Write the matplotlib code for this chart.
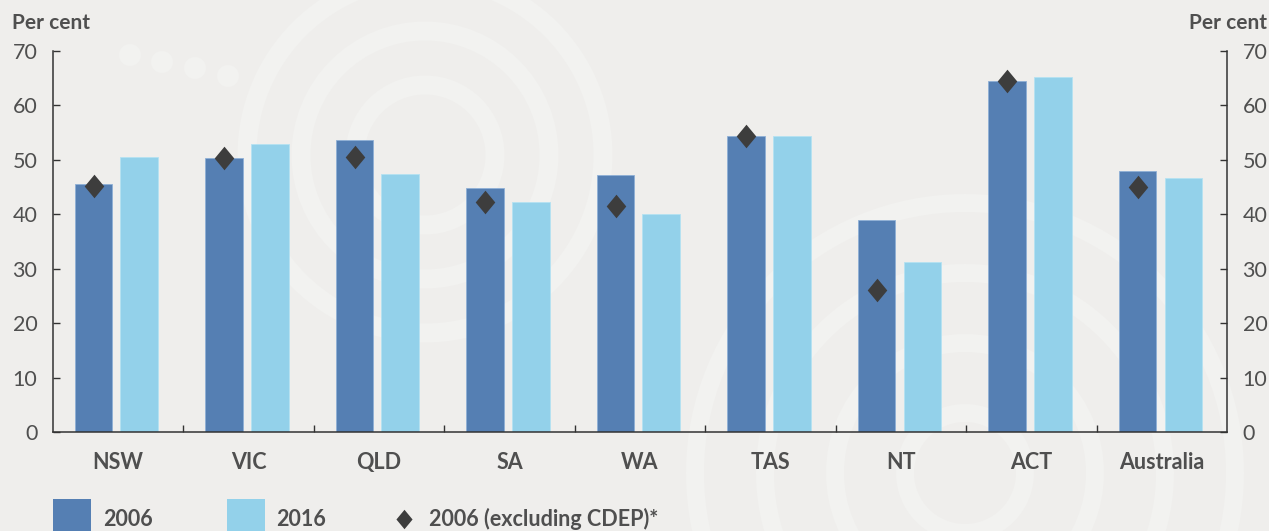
import matplotlib
matplotlib.use("Agg")
import matplotlib.pyplot as plt
import numpy as np
from matplotlib.path import Path
from matplotlib.patches import Rectangle, Circle

plt.rcParams['font.family'] = ['Lato', 'DejaVu Sans']

categories = ["NSW", "VIC", "QLD", "SA", "WA", "TAS", "NT", "ACT", "Australia"]
values_2006 = [45.6, 50.3, 53.6, 44.8, 47.3, 54.4, 39.0, 64.5, 48.0]
values_2016 = [50.5, 52.9, 47.5, 42.2, 40.0, 54.4, 31.2, 65.3, 46.7]
values_2006_excl = [45.3, 50.4, 50.5, 42.3, 41.6, 54.4, 26.1, 64.5, 45.1]
y_ticks = [0, 10, 20, 30, 40, 50, 60, 70]
legend_labels = ["2006", "2016", "2006 (excluding CDEP)*"]

BG = "#efeeec"
DARK = "#557fb3"
LIGHT = "#93d1ea"
DIAM = "#3d3d3d"
TXT = "#4f4f4f"
AX = "#333333"

W, H = 1269, 531
fig = plt.figure(figsize=(W / 100, H / 100), dpi=100, facecolor=BG)

# faint decorative rings in background (pixel coords, origin bottom-left)
ring_col = "#f2f2f0"
def add_bg(p):
    p.set_transform(None)
    p.set_zorder(-5)
    fig.patches.append(p)

for r in (70, 124, 178):
    add_bg(Circle((425, H - 155), r, fill=False, lw=19 * 0.72, ec=ring_col))
for r in (60, 130, 200, 270):
    add_bg(Circle((965, H - 473), r, fill=False, lw=18 * 0.72, ec=ring_col))
for (dx, dy) in [(130, 55), (162, 62), (195, 68), (228, 76)]:
    add_bg(Circle((dx, H - dy), 11, fc=ring_col, ec="none"))

ax = fig.add_axes([52.7 / W, 1 - 432.3 / H, (1227.3 - 52.7) / W, (432.3 - 51) / H])
ax.patch.set_alpha(0)
ax.set_zorder(1)

x = np.arange(len(categories))
bw = 0.288
ax.bar(x - 0.187, values_2006, width=bw, color=DARK, edgecolor="#8fb0d6", linewidth=0.6, zorder=2)
ax.bar(x + 0.163, values_2016, width=bw, color=LIGHT, edgecolor="#b5e2f2", linewidth=0.6, zorder=2)

diamond = Path([(0, 1), (0.83, 0), (0, -1), (-0.83, 0), (0, 1)],
               [Path.MOVETO, Path.LINETO, Path.LINETO, Path.LINETO, Path.CLOSEPOLY])
ax.plot(x - 0.187, values_2006_excl, linestyle="none", marker=diamond,
        markersize=17, color=DIAM, markeredgewidth=0, zorder=3)

ax.set_xlim(-0.5, len(categories) - 0.5)
ax.set_ylim(0, 70)
ax.set_yticks(y_ticks)
ax.set_yticklabels([str(v) for v in y_ticks])
ax.tick_params(axis="y", which="both", left=True, right=True, labelleft=True,
               labelright=True, direction="in", length=5, width=1,
               color=AX, labelsize=15.5, labelcolor=TXT, pad=11)
ax.set_xticks(x)
ax.set_xticklabels(categories, fontweight="bold")
ax.tick_params(axis="x", which="major", length=0, labelsize=15.5, labelcolor=TXT, pad=14)
ax.set_xticks(np.arange(0.5, len(categories) - 0.5, 1.0), minor=True)
ax.tick_params(axis="x", which="minor", direction="in", length=5, width=1, color=AX)

for s in ["left", "right", "bottom"]:
    ax.spines[s].set_color(AX)
    ax.spines[s].set_linewidth(1.1)
ax.spines["top"].set_visible(False)

fig.text(12 / W, 1 - 29 / H, "Per cent", ha="left", va="baseline",
         fontsize=15, fontweight="bold", color=TXT)
fig.text(1267 / W, 1 - 29 / H, "Per cent", ha="right", va="baseline",
         fontsize=15, fontweight="bold", color=TXT)

# legend
def add_rect(x0, color):
    r = Rectangle((x0, -6), 38.3, 38, fc=color, ec="none")
    r.set_transform(None)
    fig.patches.append(r)

add_rect(52.7, DARK)
add_rect(227, LIGHT)
fig.text(103 / W, 5 / H, legend_labels[0], ha="left", va="baseline",
         fontsize=15.5, fontweight="bold", color=TXT)
fig.text(276 / W, 5 / H, legend_labels[1], ha="left", va="baseline",
         fontsize=15.5, fontweight="bold", color=TXT)
fig.lines.append(plt.Line2D([404 / W], [12 / H], transform=fig.transFigure,
                            marker=diamond, markersize=14, color=DIAM,
                            markeredgewidth=0, linestyle="none"))
fig.text(428.6 / W, 5 / H, legend_labels[2], ha="left", va="baseline",
         fontsize=15.5, fontweight="bold", color=TXT)

fig.savefig("out.png", dpi=100, facecolor=BG)
